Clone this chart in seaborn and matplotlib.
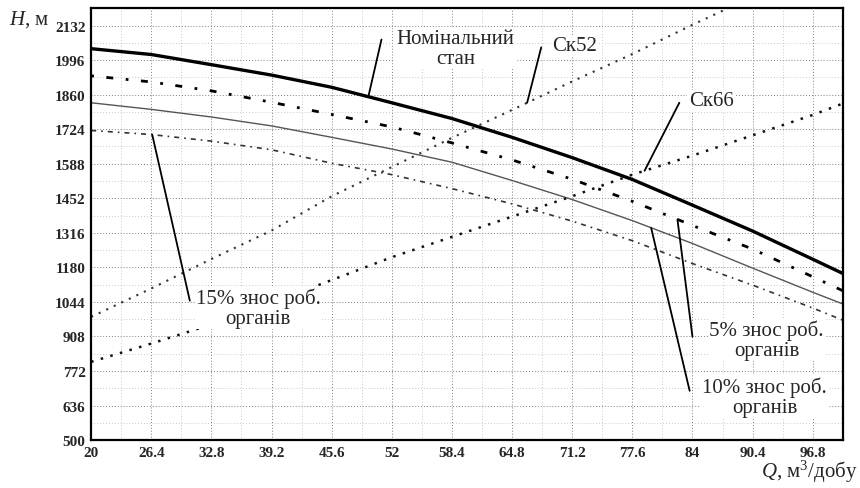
import numpy as np
import pandas as pd
import seaborn as sns
import matplotlib.pyplot as plt

# --- Data ---
q = [20, 26.4, 32.8, 39.2, 45.6, 52, 58.4, 64.8, 71.2, 77.6, 84, 90.4, 96.8, 100]
h_nominal = [2041, 2018, 1978, 1937, 1889, 1828, 1766, 1692, 1612, 1526, 1425, 1323, 1212, 1156]
h_wear5 = [1934, 1910, 1875, 1830, 1782, 1733, 1670, 1603, 1527, 1440, 1345, 1252, 1143, 1088]
h_wear10 = [1828, 1802, 1772, 1737, 1692, 1646, 1594, 1522, 1447, 1364, 1274, 1177, 1082, 1036]
h_wear15 = [1719, 1703, 1677, 1643, 1590, 1545, 1490, 1430, 1362, 1285, 1195, 1110, 1020, 972]

q_sk52 = [20, 26.4, 32.8, 39.2, 45.6, 52, 58.4, 64.8, 71.2, 77.6, 84, 90.4]
h_sk52 = [985, 1097, 1213, 1325, 1460, 1575, 1690, 1800, 1912, 2020, 2135, 2245]
h_sk66 = [808, 880, 955, 1040, 1130, 1220, 1300, 1380, 1460, 1545, 1620, 1700, 1780, 1825]

x_ticks = [20, 26.4, 32.8, 39.2, 45.6, 52, 58.4, 64.8, 71.2, 77.6, 84, 90.4, 96.8]
y_ticks = [500, 636, 772, 908, 1044, 1180, 1316, 1452, 1588, 1724, 1860, 1996, 2132]

sns.set_theme(style='white')
plt.rcParams['font.family'] = ['Liberation Serif', 'DejaVu Serif']
plt.rcParams['mathtext.fontset'] = 'custom'
plt.rcParams['mathtext.rm'] = 'Liberation Serif'
plt.rcParams['mathtext.it'] = 'Liberation Serif:italic'

fig = plt.figure(figsize=(8.6, 4.89), dpi=100)
ax = fig.add_axes([0.106, 0.098, 0.874, 0.883])

# --- Curves ---
sns.lineplot(x=q, y=h_nominal, ax=ax, color='black', lw=2.4, linestyle='-')
sns.lineplot(x=q, y=h_wear5, ax=ax, color='black', lw=2.0, linestyle=(0, (1, 4.5, 2.5, 4.5)))
sns.lineplot(x=q, y=h_wear10, ax=ax, color='#555555', lw=1.0, linestyle='-')
sns.lineplot(x=q, y=h_wear15, ax=ax, color='#333333', lw=1.2, linestyle=(0, (3, 3, 1, 3)))
sns.lineplot(x=q_sk52, y=h_sk52, ax=ax, color='#333333', lw=1.5, linestyle=(0, (1, 3)))
sns.lineplot(x=q, y=h_sk66, ax=ax, color='#111111', lw=1.8, linestyle=(0, (1, 3)))

ax.set_xlim(20, 100)
ax.set_ylim(500, 2200)
ax.set_xticks(x_ticks)
ax.set_xticklabels([f'{t:g}' for t in x_ticks])
ax.set_yticks(y_ticks)
ax.set_yticklabels([str(t) for t in y_ticks])
ax.set_xticks(np.array(x_ticks) + 3.2, minor=True)
ax.set_yticks(np.array(y_ticks) + 68, minor=True)
ax.tick_params(which='both', length=0, pad=4)
for lab in ax.get_xticklabels() + ax.get_yticklabels():
    lab.set_fontweight('bold')
    lab.set_fontsize(11)

ax.grid(which='major', color='0.5', lw=0.7, linestyle=(0, (1, 2)))
ax.grid(which='minor', color='0.72', lw=0.6, linestyle=(0, (1, 2.5)))
for s in ax.spines.values():
    s.set_color('black')
    s.set_linewidth(1.6)

# --- Annotations with leader lines ---
box = dict(facecolor='white', edgecolor='none', pad=1)
lab_kw = dict(fontsize=15, ha='center', va='center', linespacing=1.05, bbox=box)
line_kw = dict(color='black', lw=1.3)


def leader(x0, y0, x1, y1):
    ax.plot([x0, x1], [y0, y1], **line_kw)


leader(50.9, 2077, 49.5, np.interp(49.5, q, h_nominal))
leader(67.9, 2046, 66.4, np.interp(66.4, q_sk52, h_sk52))
leader(82.6, 1828, 78.9, np.interp(78.9, q, h_sk66))
leader(30.5, 1049, 26.5, np.interp(26.5, q, h_wear15))
leader(84.0, 907, 82.4, np.interp(82.4, q, h_wear5))
leader(83.7, 694, 79.6, np.interp(79.6, q, h_wear10))

ax.text(58.8, 2042, 'Номінальний\nстан', **lab_kw)
ax.text(71.45, 2053, 'Ск52', **lab_kw)
ax.text(86.0, 1836, 'Ск66', **lab_kw)
ax.text(37.8, 1022, '15% знос роб.\nорганів', **lab_kw)
ax.text(91.9, 895, '5% знос роб.\nорганів', **lab_kw)
ax.text(91.7, 670, '10% знос роб.\nорганів', **lab_kw)

fig.text(9 / 860, 1 - 20 / 489, '$\\mathit{H}$, м', fontsize=15, ha='left', va='center')
fig.text(0.997, 1 - 472 / 489, '$\\mathit{Q}$, м$^3$/добу', fontsize=15, ha='right', va='center')

fig.savefig('out.png', dpi=100)
